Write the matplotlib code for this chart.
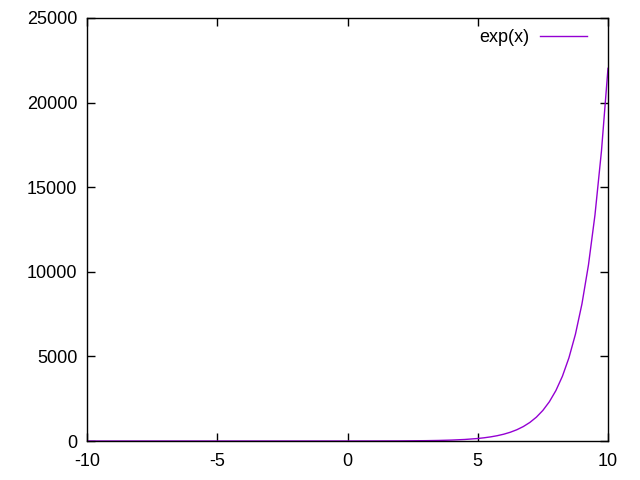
import matplotlib
matplotlib.use("Agg")
import matplotlib.pyplot as plt

# values
x_vals = [-10, -8, -6, -4, -2, 0, 1, 2, 3, 3.5, 4, 4.5, 5, 5.25, 5.5, 5.75, 6, 6.25, 6.5,
          6.75, 7, 7.25, 7.5, 7.75, 8, 8.25, 8.5, 8.75, 9, 9.25, 9.5, 9.75, 10]
y_vals = [0, 0, 0, 0, 0, 1, 3, 7, 20, 33, 55, 90, 148, 191, 245, 314, 403, 518, 665,
          854, 1097, 1408, 1808, 2322, 2981, 3827, 4915, 6310, 8103, 10405, 13360,
          17154, 22026]
series_label = "exp(x)"
x_ticks = [-10, -5, 0, 5, 10]
x_tick_labels = ["-10", "-5", "0", "5", "10"]
y_ticks = [0, 5000, 10000, 15000, 20000, 25000]

plt.rcParams['font.family'] = ['Liberation Sans', 'DejaVu Sans']
plt.rcParams['font.size'] = 13

fig = plt.figure(figsize=(6.4, 4.8), dpi=100)
ax = fig.add_axes([87 / 640, 1 - 441 / 480, (608 - 87) / 640, (441 - 18) / 480])

ax.plot(x_vals, y_vals, color='#9400D3', lw=1.0, label=series_label)

ax.set_xlim(-10, 10)
ax.set_ylim(0, 25000)
ax.set_xticks(x_ticks)
ax.set_xticklabels(x_tick_labels)
ax.set_yticks(y_ticks)
ax.tick_params(direction='in', length=6, width=1, top=True, right=True, colors='black')
ax.tick_params(axis='x', pad=9)
ax.tick_params(axis='y', pad=7)
for s in ax.spines.values():
    s.set_linewidth(1.0)

leg = ax.legend(loc='upper right', frameon=False, markerfirst=False, handlelength=2.6,
                handletextpad=0.6, borderaxespad=0.5, fontsize=13,
                bbox_to_anchor=(1 - 5 / 521, 1 + 5 / 423))

fig.savefig("out.png", dpi=100)
